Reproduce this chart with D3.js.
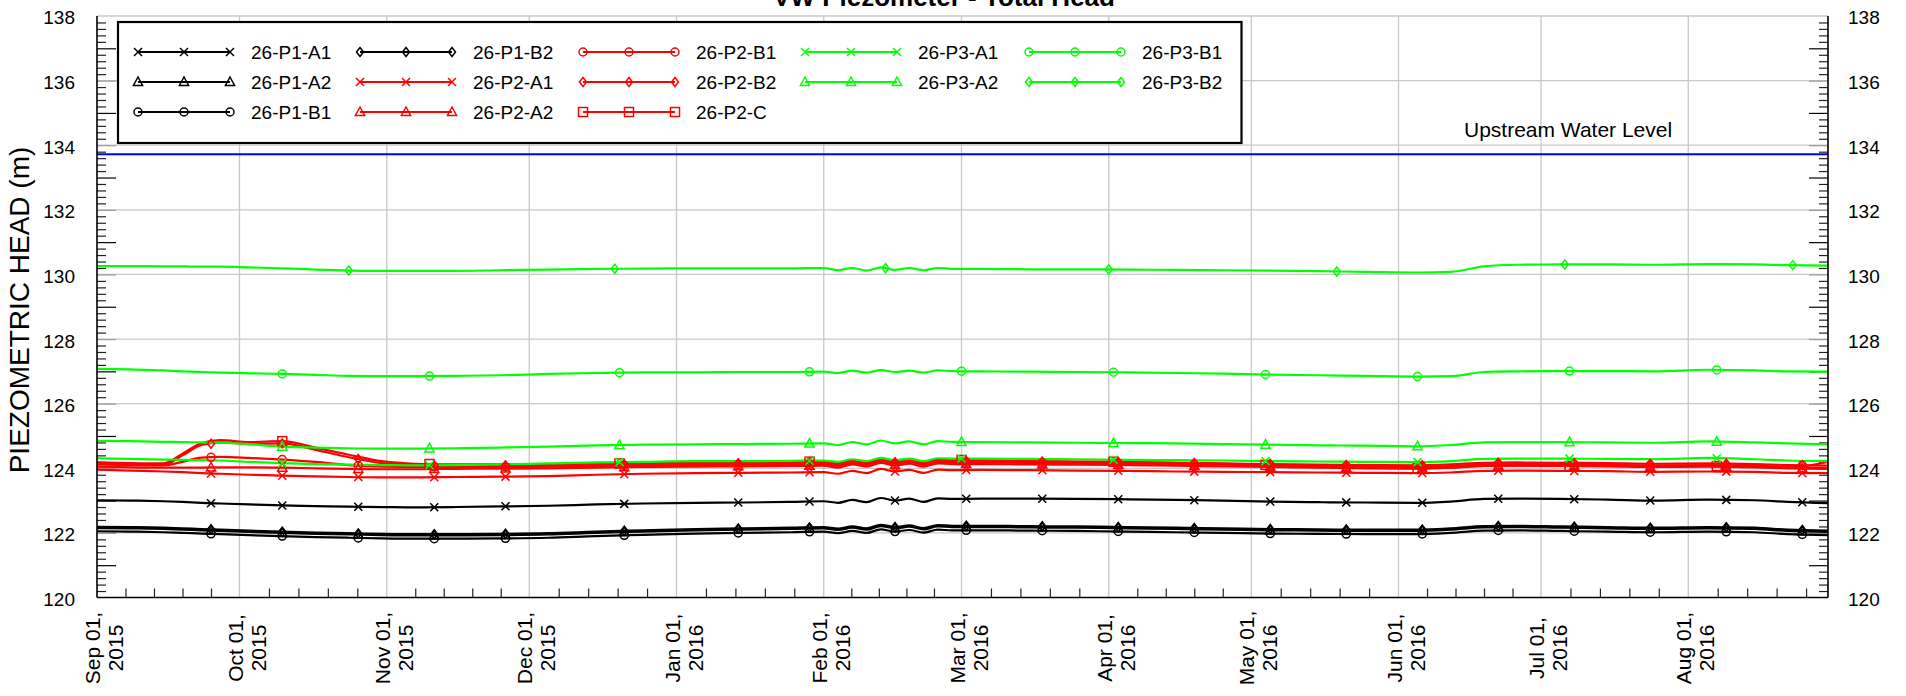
<!DOCTYPE html>
<html><head><meta charset="utf-8">
<script src="https://cdn.jsdelivr.net/npm/d3@7"></script>
<style>html,body{margin:0;padding:0;background:#fff;} svg{display:block;font-family:"Liberation Sans",Arial,Helvetica,sans-serif;}</style>
</head><body><svg id="chart" width="1906" height="696"></svg>
<script>
// ---------------- DATA ----------------
const dates = ["2015-09-01","2015-09-08","2015-09-15","2015-09-19","2015-09-23","2015-09-27","2015-10-03","2015-10-10","2015-10-17","2015-10-24",
"2015-10-31","2015-11-07","2015-11-15","2015-11-25","2015-12-05","2015-12-15","2015-12-25","2016-01-05","2016-01-15","2016-01-25",
"2016-02-01","2016-02-04","2016-02-07","2016-02-10","2016-02-13","2016-02-16","2016-02-19","2016-02-22","2016-02-25","2016-02-28",
"2016-03-05","2016-03-15","2016-03-25","2016-04-05","2016-04-15","2016-04-25","2016-05-05","2016-05-15","2016-05-25","2016-06-05",
"2016-06-12","2016-06-19","2016-06-26","2016-07-05","2016-07-15","2016-07-25","2016-08-05","2016-08-15","2016-08-22","2016-08-31"];

const p1a1 = [123.01,123.0,122.98,122.96,122.93,122.91,122.88,122.85,122.83,122.81,122.8,122.79,122.8,122.82,122.84,122.88,122.91,122.93,122.94,122.96,
122.98,122.93,123.02,122.95,123.08,123.0,123.06,122.96,123.07,123.05,
123.06,123.06,123.05,123.04,123.02,123.0,122.97,122.95,122.94,122.93,122.97,123.05,123.06,123.05,123.03,123.0,123.03,123.01,122.96,122.92];
const p1a2 = [122.15,122.14,122.12,122.1,122.08,122.06,122.03,122.0,121.97,121.95,121.93,121.92,121.92,121.93,121.95,122.0,122.04,122.08,122.1,122.12,
122.14,122.09,122.16,122.1,122.21,122.14,122.19,122.11,122.2,122.18,
122.18,122.17,122.16,122.14,122.12,122.1,122.08,122.07,122.06,122.06,122.1,122.17,122.18,122.16,122.14,122.12,122.14,122.12,122.06,122.03];
const p1b1 = [122.05,122.04,122.02,122.0,121.98,121.96,121.93,121.9,121.87,121.85,121.83,121.82,121.82,121.83,121.85,121.9,121.94,121.98,122.0,122.02,
122.04,121.99,122.06,122.0,122.11,122.04,122.09,122.01,122.1,122.08,
122.08,122.07,122.06,122.04,122.02,122.0,121.98,121.97,121.96,121.96,122.0,122.07,122.08,122.06,122.04,122.02,122.04,122.02,121.96,121.93];
const p1b2 = [122.19,122.18,122.16,122.14,122.12,122.1,122.07,122.04,122.01,121.99,121.97,121.96,121.96,121.97,121.99,122.04,122.08,122.12,122.14,122.16,
122.18,122.13,122.2,122.14,122.25,122.18,122.23,122.15,122.24,122.22,
122.22,122.21,122.2,122.18,122.16,122.14,122.12,122.11,122.1,122.1,122.14,122.21,122.22,122.2,122.18,122.16,122.18,122.16,122.1,122.07];
const p2a1 = [123.96,123.93,123.9,123.88,123.85,123.83,123.8,123.77,123.75,123.73,123.72,123.72,123.73,123.74,123.76,123.8,123.83,123.85,123.86,123.87,
123.88,123.83,123.92,123.85,123.98,123.9,123.95,123.86,123.96,123.94,
123.95,123.94,123.93,123.92,123.9,123.89,123.88,123.87,123.86,123.85,123.87,123.92,123.93,123.92,123.91,123.89,123.9,123.89,123.86,123.85];
const p2a2 = [124.05,124.03,124.02,124.02,124.02,124.03,124.03,124.02,124.0,123.98,123.97,123.97,123.98,123.99,124.0,124.02,124.04,124.05,124.06,124.07,
124.08,124.02,124.12,124.05,124.17,124.09,124.14,124.05,124.15,124.13,
124.13,124.12,124.11,124.1,124.08,124.06,124.04,124.02,124.0,123.99,124.02,124.07,124.08,124.07,124.06,124.04,124.05,124.03,124.0,123.98];
const p2b1 = [124.12,124.1,124.09,124.2,124.33,124.35,124.32,124.27,124.2,124.1,124.05,124.04,124.04,124.04,124.05,124.07,124.09,124.1,124.11,124.12,
124.13,124.07,124.17,124.1,124.22,124.14,124.19,124.1,124.2,124.18,
124.18,124.17,124.16,124.15,124.13,124.11,124.09,124.07,124.05,124.04,124.07,124.12,124.13,124.12,124.11,124.09,124.1,124.08,124.03,124.22];
const p2b2 = [124.14,124.12,124.11,124.4,124.72,124.8,124.75,124.77,124.57,124.34,124.16,124.1,124.08,124.09,124.1,124.11,124.13,124.15,124.16,124.17,
124.18,124.12,124.22,124.15,124.27,124.19,124.24,124.15,124.25,124.23,
124.22,124.21,124.2,124.19,124.17,124.15,124.13,124.11,124.1,124.09,124.12,124.17,124.18,124.17,124.16,124.14,124.15,124.13,124.1,124.08];
const p2c = [124.18,124.16,124.15,124.45,124.78,124.87,124.81,124.84,124.64,124.42,124.22,124.14,124.12,124.12,124.12,124.14,124.16,124.18,124.19,124.2,
124.21,124.15,124.25,124.18,124.3,124.22,124.27,124.18,124.28,124.26,
124.25,124.23,124.21,124.2,124.17,124.14,124.1,124.06,124.02,124.0,124.02,124.07,124.08,124.07,124.07,124.06,124.07,124.06,124.03,124.0];
const p3a1 = [124.31,124.29,124.27,124.26,124.25,124.24,124.2,124.16,124.13,124.11,124.1,124.09,124.1,124.12,124.15,124.18,124.2,124.22,124.22,124.23,
124.24,124.2,124.28,124.22,124.32,124.25,124.3,124.22,124.31,124.3,
124.3,124.29,124.28,124.26,124.25,124.24,124.22,124.21,124.2,124.19,124.22,124.29,124.3,124.3,124.29,124.28,124.32,124.28,124.24,124.22];
const p3a2 = [124.85,124.84,124.82,124.81,124.8,124.79,124.75,124.67,124.64,124.62,124.61,124.61,124.62,124.64,124.67,124.71,124.73,124.74,124.75,124.76,
124.77,124.72,124.81,124.74,124.86,124.77,124.83,124.74,124.84,124.82,
124.81,124.8,124.79,124.78,124.77,124.75,124.73,124.71,124.7,124.68,124.72,124.8,124.81,124.81,124.8,124.79,124.83,124.8,124.77,124.74];
const p3b1 = [127.08,127.06,127.03,127.0,126.98,126.96,126.94,126.92,126.89,126.86,126.85,126.85,126.86,126.88,126.92,126.95,126.97,126.97,126.98,126.98,
126.99,126.95,127.02,126.96,127.04,126.98,127.02,126.96,127.03,127.01,
127.0,126.99,126.98,126.97,126.95,126.93,126.9,126.88,126.86,126.84,126.85,126.98,127.0,127.01,127.01,127.0,127.05,127.03,127.0,126.99];
const p3b2 = [130.26,130.26,130.25,130.25,130.24,130.24,130.22,130.19,130.15,130.12,130.11,130.11,130.11,130.13,130.15,130.17,130.18,130.19,130.19,130.19,
130.2,130.13,130.2,130.12,130.22,130.14,130.2,130.13,130.2,130.17,
130.17,130.16,130.16,130.15,130.14,130.13,130.12,130.1,130.08,130.06,130.08,130.25,130.3,130.31,130.31,130.3,130.32,130.31,130.29,130.27];

const upstreamLevel = [133.72];

const markersA = ["2015-10-10","2015-11-10","2015-12-20","2016-01-29","2016-03-01","2016-04-02","2016-05-04","2016-06-05","2016-07-07","2016-08-07"];
const markersB = ["2015-09-25","2015-10-10","2015-10-26","2015-11-11","2015-11-26","2015-12-21","2016-01-14","2016-01-29","2016-02-16","2016-03-02",
"2016-03-18","2016-04-03","2016-04-19","2016-05-05","2016-05-21","2016-06-06","2016-06-22","2016-07-08","2016-07-24","2016-08-09","2016-08-25"];
const markersC = ["2015-10-24","2015-12-19","2016-02-14","2016-04-01","2016-05-19","2016-07-06","2016-08-23"];

const seriesNames = ["26-P1-A1","26-P1-A2","26-P1-B1","26-P1-B2","26-P2-A1","26-P2-A2","26-P2-B1","26-P2-B2","26-P2-C","26-P3-A1","26-P3-A2","26-P3-B1","26-P3-B2"];
const yTickLabels = [120,122,124,126,128,130,132,134,136,138];

// ---------------- CHART ----------------
const parse = d3.timeParse("%Y-%m-%d");
const D = dates.map(parse);
const L = 97, R = 1828, T = 16, B = 597.5;
const x = d3.scaleTime().domain([new Date(2015,8,1), new Date(2016,7,30,10)]).range([L,R]);
const y = d3.scaleLinear().domain([120,138]).range([B,T]);
const svg = d3.select("#chart");

const BLACK="#000000", RED="#ff0000", GREEN="#00ff00";
const series = [
  {name:seriesNames[0], v:p1a1, c:BLACK, s:"x", m:markersB},
  {name:seriesNames[1], v:p1a2, c:BLACK, s:"tri", m:markersB},
  {name:seriesNames[2], v:p1b1, c:BLACK, s:"circle", m:markersB},
  {name:seriesNames[3], v:p1b2, c:BLACK, s:"diamond", m:markersB},
  {name:seriesNames[4], v:p2a1, c:RED, s:"x", m:markersB},
  {name:seriesNames[5], v:p2a2, c:RED, s:"tri", m:markersB},
  {name:seriesNames[6], v:p2b1, c:RED, s:"circle", m:markersB},
  {name:seriesNames[7], v:p2b2, c:RED, s:"diamond", m:markersB},
  {name:seriesNames[8], v:p2c, c:RED, s:"square", m:markersA},
  {name:seriesNames[9], v:p3a1, c:GREEN, s:"x", m:markersA},
  {name:seriesNames[10], v:p3a2, c:GREEN, s:"tri", m:markersA},
  {name:seriesNames[11], v:p3b1, c:GREEN, s:"circle", m:markersA},
  {name:seriesNames[12], v:p3b2, c:GREEN, s:"diamond", m:markersC}
];

svg.append("defs").append("clipPath").attr("id","clip")
  .append("rect").attr("x",L).attr("y",T-1).attr("width",R-L).attr("height",B-T+1);

// grid
const grid = svg.append("g").attr("stroke","#c8c8c8").attr("stroke-width",1.3);
grid.selectAll(".gy").data(yTickLabels.filter(v=>v>120)).join("line")
  .attr("x1",L).attr("x2",R).attr("y1",d=>y(d)).attr("y2",d=>y(d));
const months = d3.timeMonth.range(new Date(2015,8,1), new Date(2016,7,2));
grid.selectAll(".gx").data(months.slice(1)).join("line")
  .attr("x1",d=>x(d)).attr("x2",d=>x(d)).attr("y1",T).attr("y2",B);

// minor ticks
const minorY = d3.range(1,90).map(k=>+(120+k*0.2).toFixed(1)).filter(v=>Math.abs(v-Math.round(v))>1e-6);
const oddY = d3.range(121,138,2);
const evenY = d3.range(122,138,2);
function yTicks(axisGen, tx, vals, size, color){
  svg.append("g").attr("transform",`translate(${tx},0)`)
    .call(axisGen(y).tickValues(vals).tickSize(size).tickFormat(""))
    .call(g=>g.select(".domain").remove())
    .call(g=>g.selectAll("line").attr("stroke",color).attr("stroke-width",1.2));
}
yTicks(d3.axisLeft, L, minorY, -9, "#222");
yTicks(d3.axisLeft, L, oddY, -19, "#000");
yTicks(d3.axisLeft, L, evenY, -19, "#999");
yTicks(d3.axisRight, R, minorY, -9, "#222");
yTicks(d3.axisRight, R, oddY, -19, "#000");
yTicks(d3.axisRight, R, evenY, -19, "#999");

const minorX = [];
months.forEach(m=>{
  const n = d3.timeMonth.offset(m,1);
  for(let k=1;k<5;k++){ const t = new Date(+m + (n-m)*k/5); if (x(t) < R-1) minorX.push(t); }
});
svg.append("g").attr("transform",`translate(0,${B})`)
  .call(d3.axisBottom(x).tickValues(minorX).tickSize(-9).tickFormat(""))
  .call(g=>g.select(".domain").remove())
  .call(g=>g.selectAll("line").attr("stroke","#222").attr("stroke-width",1.2));

// upstream water level
svg.append("g").attr("clip-path","url(#clip)").selectAll("line").data(upstreamLevel).join("line")
  .attr("x1",L).attr("x2",R).attr("y1",d=>y(d)).attr("y2",d=>y(d))
  .attr("stroke","#0000ff").attr("stroke-width",2);
svg.append("text").attr("x",1464).attr("y",y(upstreamLevel[0])-17).attr("font-size",21).attr("fill","#000")
  .text("Upstream Water Level");

// series lines
const line = d3.line().x((d,i)=>x(D[i])).y(d=>y(d)).curve(d3.curveMonotoneX);
const plot = svg.append("g").attr("clip-path","url(#clip)");
function valueAt(vals, t){
  let i = d3.bisectRight(D, t) - 1;
  i = Math.max(0, Math.min(D.length-2, i));
  const f = (t - D[i])/(D[i+1]-D[i]);
  return vals[i] + f*(vals[i+1]-vals[i]);
}
function sym(g, type, cx, cy, color){
  let p;
  if(type==="x") p = g.append("path").attr("d",`M${cx-4},${cy-4}L${cx+4},${cy+4}M${cx-4},${cy+4}L${cx+4},${cy-4}`);
  else if(type==="tri") p = g.append("path").attr("d",`M${cx},${cy-5}L${cx+4.6},${cy+3.5}L${cx-4.6},${cy+3.5}Z`);
  else if(type==="circle") p = g.append("circle").attr("cx",cx).attr("cy",cy).attr("r",4);
  else if(type==="diamond") p = g.append("path").attr("d",`M${cx},${cy-4.5}L${cx+3.5},${cy}L${cx},${cy+4.5}L${cx-3.5},${cy}Z`);
  else p = g.append("rect").attr("x",cx-4.5).attr("y",cy-4.5).attr("width",9).attr("height",9);
  p.attr("fill","none").attr("stroke",color).attr("stroke-width",1.5);
}
series.forEach(s=>{
  plot.append("path").datum(s.v).attr("d",line).attr("fill","none").attr("stroke",s.c).attr("stroke-width",2.2);
});
series.forEach(s=>{
  const g = plot.append("g");
  s.m.map(parse).forEach(t=>sym(g, s.s, x(t), y(valueAt(s.v,t)), s.c));
});

// axis frame
const frame = svg.append("g").attr("stroke","#000").attr("stroke-width",1.6);
frame.append("line").attr("x1",L).attr("x2",L).attr("y1",T).attr("y2",B);
frame.append("line").attr("x1",R).attr("x2",R).attr("y1",T).attr("y2",B);
frame.append("line").attr("x1",L).attr("x2",R).attr("y1",B).attr("y2",B);

// y labels
function yLabels(axisGen, tx, pad){
  svg.append("g").attr("transform",`translate(${tx},0)`)
    .call(axisGen(y).tickValues(yTickLabels).tickSize(0).tickPadding(pad).tickFormat(d3.format("d")))
    .call(g=>g.select(".domain").remove())
    .call(g=>g.selectAll("text").attr("font-size",19).attr("font-family","'Liberation Sans',Arial,sans-serif").attr("fill","#000").attr("dy","0.42em"));
}
yLabels(d3.axisLeft, L, 22);
yLabels(d3.axisRight, R, 20);

// x labels
const fmtA = d3.timeFormat("%b %d,"), fmtB = d3.timeFormat("%Y");
const xl = svg.append("g").attr("font-size",21).attr("fill","#000");
months.forEach(m=>{
  const t = xl.append("text").attr("transform",`translate(${x(m)},648) rotate(-90)`).attr("text-anchor","middle");
  t.append("tspan").attr("x",0).attr("y",3).text(fmtA(m));
  t.append("tspan").attr("x",0).attr("y",26).text(fmtB(m));
});

// titles
svg.append("text").attr("x",944).attr("y",6).attr("text-anchor","middle").attr("font-size",26).attr("font-weight","bold")
  .text("VW Piezometer - Total Head");
svg.append("text").attr("transform","translate(19,310) rotate(-90)").attr("text-anchor","middle")
  .attr("dominant-baseline","central").attr("font-size",28).text("PIEZOMETRIC HEAD (m)");

// legend
const lg = svg.append("g");
lg.append("rect").attr("x",118).attr("y",22).attr("width",1241.5-118).attr("height",143-22)
  .attr("fill","#fff").attr("stroke","#000").attr("stroke-width",2.2);
const colX = [138,360,583,805,1029];
const rowY = [52,82,112];
const legendLayout = [[0,0],[0,1],[0,2],[1,0],[1,1],[1,2],[2,0],[2,1],[2,2],[3,0],[3,1],[4,0],[4,1]];
series.forEach((s,i)=>{
  const [c,r] = legendLayout[i];
  const x0 = colX[c], yy = rowY[r];
  lg.append("line").attr("x1",x0).attr("x2",x0+92).attr("y1",yy).attr("y2",yy).attr("stroke",s.c).attr("stroke-width",2);
  [0,46,92].forEach(dx=>sym(lg, s.s, x0+dx, yy, s.c));
  lg.append("text").attr("x",x0+113).attr("y",yy).attr("dy","0.36em").attr("font-size",19).attr("fill","#000").text(s.name);
});
</script></body></html>
